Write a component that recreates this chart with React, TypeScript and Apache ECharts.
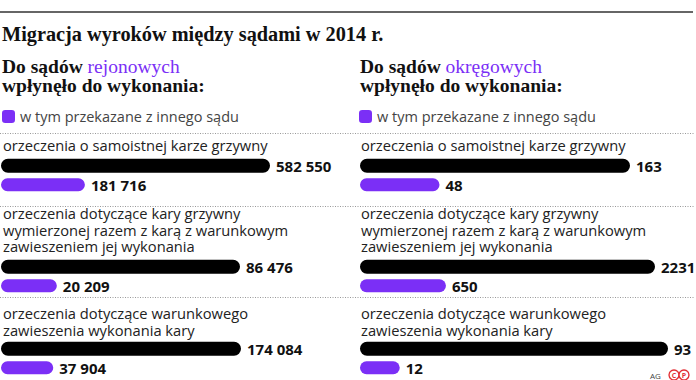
import React, { useEffect, useRef } from 'react';
import * as echarts from 'echarts';

const chartTitle = 'Migracja wyroków między sądami w 2014 r.';
const panelHeadPrefix = 'Do sądów ';
const panelHeadAccent = ['rejonowych', 'okręgowych'];
const panelHeadLine2 = 'wpłynęło do wykonania:';
const legendLabel = 'w tym przekazane z innego sądu';
const totalName = 'wpłynęło do wykonania';
const categories: string[][] = [
  ['orzeczenia o samoistnej karze grzywny'],
  ['orzeczenia dotyczące kary grzywny', 'wymierzonej razem z karą z warunkowym', 'zawieszeniem jej wykonania'],
  ['orzeczenia dotyczące warunkowego', 'zawieszenia wykonania kary'],
];
const rejonoweTotal = [582550, 86476, 174084];
const rejonoweTransferred = [181716, 20209, 37904];
const okregoweTotal = [163, 2231, 93];
const okregoweTransferred = [48, 650, 12];
const credit = 'AG';

const PURPLE = '#7b2ff6';
const SANS = '"Open Sans", "Noto Sans", sans-serif';
const SERIF = '"Liberation Serif", serif';

const panelX = [1, 360];
const textX = [3, 361];
const barWidths = [
  [269, 239, 240],
  [270, 295, 308],
];
const groupTop = [155.5, 256.5, 338.5];
const firstLineY = [145, 213, 313];
const LINE_H = 16.5;
const dotYs = [133.5, 206.5, 297.5];

function fmt(n: number): string {
  const s = String(n);
  if (n < 10000) return s;
  return s.replace(/\B(?=(\d{3})+(?!\d))/g, ' ');
}

export default function App() {
  const ref = useRef<HTMLDivElement>(null);
  useEffect(() => {
    if (!ref.current) return;
    const chart = echarts.init(ref.current, null, { renderer: 'svg' });
    const totals = [rejonoweTotal, okregoweTotal];
    const transferred = [rejonoweTransferred, okregoweTransferred];
    const grid: any[] = [];
    const xAxis: any[] = [];
    const yAxis: any[] = [];
    const series: any[] = [];
    const graphic: any[] = [];

    const labelStyle = {
      show: true,
      position: 'right',
      distance: 6,
      fontFamily: SANS,
      fontWeight: 700,
      fontSize: 15,
      color: '#111',
      formatter: (p: any) => fmt(p.value),
    };

    for (let p = 0; p < 2; p++) {
      for (let g = 0; g < categories.length; g++) {
        const i = grid.length;
        grid.push({ left: panelX[p], top: groupTop[g], width: barWidths[p][g], height: 39 });
        xAxis.push({ type: 'value', gridIndex: i, min: 0, max: totals[p][g], show: false });
        yAxis.push({ type: 'category', gridIndex: i, data: ['a', 'b'], inverse: true, show: false });
        series.push({
          type: 'bar',
          name: totalName,
          xAxisIndex: i,
          yAxisIndex: i,
          data: [totals[p][g], '-'],
          barWidth: 14,
          barGap: '-100%',
          itemStyle: { color: '#000', borderRadius: 7 },
          label: labelStyle,
        });
        series.push({
          type: 'bar',
          name: legendLabel,
          xAxisIndex: i,
          yAxisIndex: i,
          data: ['-', transferred[p][g]],
          barWidth: 13,
          barGap: '-100%',
          itemStyle: { color: PURPLE, borderRadius: 6.5 },
          label: labelStyle,
        });
        graphic.push({
          type: 'text',
          x: textX[p],
          y: firstLineY[g] - LINE_H / 2,
          style: {
            text: categories[g].join('\n'),
            font: `14.7px ${SANS}`,
            lineHeight: LINE_H,
            fill: '#222',
            textVerticalAlign: 'top',
          },
        });
      }
      graphic.push({
        type: 'text',
        x: textX[p] - 1,
        y: 66,
        style: {
          text: `{a|${panelHeadPrefix}}{b|${panelHeadAccent[p]}}`,
          textVerticalAlign: 'middle',
          rich: {
            a: { fontFamily: SERIF, fontWeight: 700, fontSize: 19.5, fill: '#111', color: '#111' },
            b: { fontFamily: SERIF, fontWeight: 400, fontSize: 19.5, fill: PURPLE, color: PURPLE },
          },
        },
      });
      graphic.push({
        type: 'text',
        x: textX[p] - 1,
        y: 85,
        style: { text: panelHeadLine2, font: `bold 19.5px ${SERIF}`, fill: '#111', textVerticalAlign: 'middle' },
      });
    }

    graphic.push({
      type: 'line',
      shape: { x1: 0, y1: 12, x2: 693, y2: 12 },
      style: { stroke: '#666', lineWidth: 2 },
    });
    graphic.push({
      type: 'text',
      x: 2,
      y: 34,
      style: { text: chartTitle, font: `bold 20.3px ${SERIF}`, fill: '#111', textVerticalAlign: 'middle' },
    });
    dotYs.forEach((y) => {
      graphic.push({
        type: 'line',
        shape: { x1: 0, y1: y, x2: 694, y2: y },
        style: { stroke: '#999', lineWidth: 1, lineDash: [1, 1.5] },
      });
    });
    graphic.push({
      type: 'text',
      x: 650,
      y: 375,
      style: { text: credit, font: `8px ${SANS}`, fill: '#444', textVerticalAlign: 'middle' },
    });
    [['C', 674], ['P', 684]].forEach(([t, cx]) => {
      graphic.push({
        type: 'circle',
        shape: { cx: cx as number, cy: 375, r: 5 },
        style: { fill: '#fff', stroke: '#e3343a', lineWidth: 1.4 },
      });
      graphic.push({
        type: 'text',
        x: cx as number,
        y: 375.5,
        style: {
          text: t as string,
          font: `bold 7px ${SANS}`,
          fill: '#e3343a',
          textAlign: 'center',
          textVerticalAlign: 'middle',
        },
      });
    });

    const legendCommon = {
      data: [legendLabel],
      icon: 'roundRect',
      itemWidth: 13,
      itemHeight: 13,
      padding: 0,
      selectedMode: false,
      textStyle: { fontFamily: SANS, fontSize: 14.5, color: '#444' },
    };

    chart.setOption({
      animation: false,
      grid,
      xAxis,
      yAxis,
      series,
      legend: [
        { ...legendCommon, left: 2, top: 109 },
        { ...legendCommon, left: 359, top: 109 },
      ],
      graphic,
    });
    return () => chart.dispose();
  }, []);
  return (
    <div
      ref={ref}
      style={{ position: 'fixed', left: 0, top: 0, width: 696, height: 380, background: '#fff' }}
    />
  );
}
